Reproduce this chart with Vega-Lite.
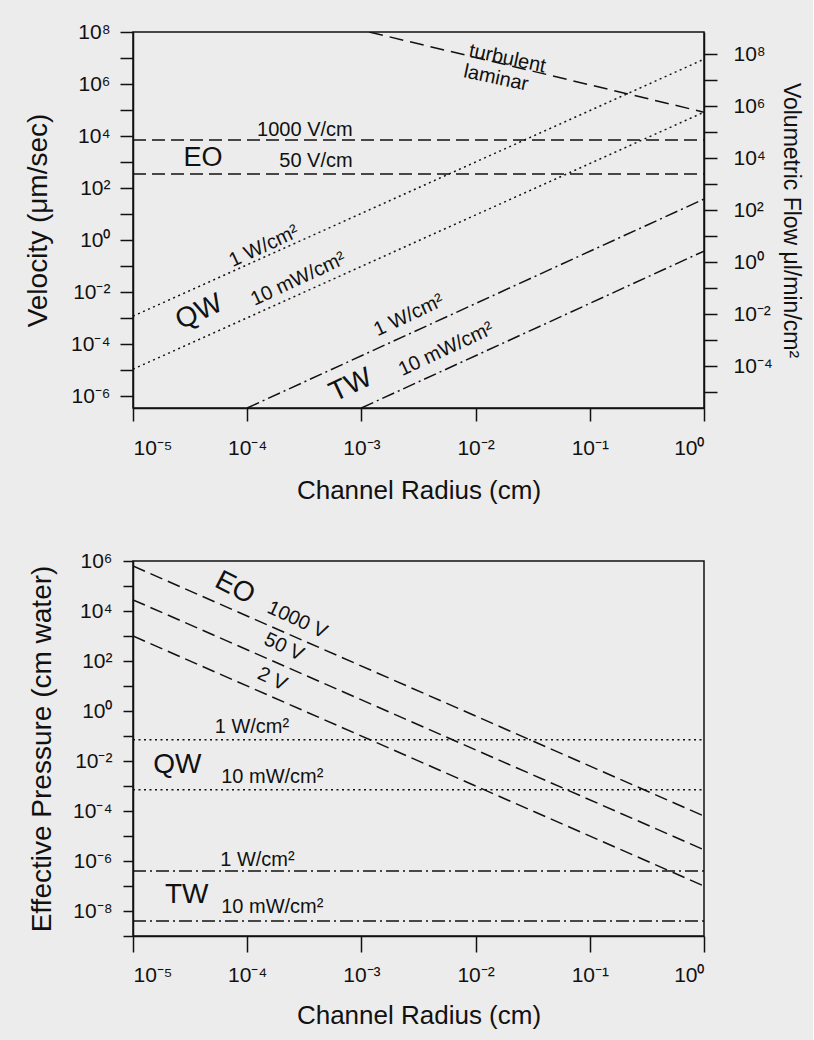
{
  "$schema": "https://vega.github.io/schema/vega-lite/v6.json",
  "background": "#ececec",
  "padding": {"left": 23, "top": 20, "right": 10, "bottom": 15},
  "spacing": 45,
  "config": {
    "font": "Liberation Sans",
    "view": {"stroke": "#111", "strokeWidth": 1.5},
    "axis": {"grid": false, "domainColor": "#111", "tickColor": "#111", "labelColor": "#111", "titleColor": "#111", "labelFont": "Liberation Sans", "titleFont": "Liberation Sans", "labelFontSize": 21, "titleFontSize": 26, "titleFontWeight": "normal", "domainWidth": 1.5, "tickWidth": 1.5, "tickSize": 13, "labelPadding": 10},
    "line": {"color": "#111", "strokeWidth": 1.5},
    "text": {"font": "Liberation Sans", "color": "#111"}
  },
  "datasets": {
    "topLines": [
      {"series": "turbulent-laminar", "mechanism": "regime", "radius": 0.00117, "value": 100000000},
      {"series": "turbulent-laminar", "mechanism": "regime", "radius": 1, "value": 83000},
      {"series": "EO 1000 V/cm", "mechanism": "EO", "radius": 0.00001, "value": 7000},
      {"series": "EO 1000 V/cm", "mechanism": "EO", "radius": 1, "value": 7000},
      {"series": "EO 50 V/cm", "mechanism": "EO", "radius": 0.00001, "value": 350},
      {"series": "EO 50 V/cm", "mechanism": "EO", "radius": 1, "value": 350},
      {"series": "QW 1 W/cm2", "mechanism": "QW", "radius": 0.00001, "value": 0.0012},
      {"series": "QW 1 W/cm2", "mechanism": "QW", "radius": 1, "value": 9000000},
      {"series": "QW 10 mW/cm2", "mechanism": "QW", "radius": 0.00001, "value": 0.000011},
      {"series": "QW 10 mW/cm2", "mechanism": "QW", "radius": 1, "value": 83000},
      {"series": "TW 1 W/cm2", "mechanism": "TW", "radius": 0.0001, "value": 3.55e-7},
      {"series": "TW 1 W/cm2", "mechanism": "TW", "radius": 1, "value": 38},
      {"series": "TW 10 mW/cm2", "mechanism": "TW", "radius": 0.001, "value": 3.55e-7},
      {"series": "TW 10 mW/cm2", "mechanism": "TW", "radius": 1, "value": 0.38}
    ],
    "topLabels": [
      {"label": "turbulent", "mechanism": "regime", "role": "condition", "radius": 0.019, "value": 9500000},
      {"label": "laminar", "mechanism": "regime", "role": "condition", "radius": 0.0151, "value": 1700000},
      {"label": "1000 V/cm", "mechanism": "EO", "role": "condition", "radius": 0.00032, "value": 17000},
      {"label": "EO", "mechanism": "EO", "role": "name", "radius": 0.000041, "value": 1400},
      {"label": "50 V/cm", "mechanism": "EO", "role": "condition", "radius": 0.0004, "value": 1100},
      {"label": "1 W/cm²", "mechanism": "QW", "role": "condition", "radius": 0.00014, "value": 0.59},
      {"label": "QW", "mechanism": "QW", "role": "name", "radius": 0.000038, "value": 0.0017},
      {"label": "10 mW/cm²", "mechanism": "QW", "role": "condition", "radius": 0.00028, "value": 0.032},
      {"label": "TW", "mechanism": "TW", "role": "name", "radius": 0.00081, "value": 0.0000026},
      {"label": "1 W/cm²", "mechanism": "TW", "role": "condition", "radius": 0.0026, "value": 0.0013},
      {"label": "10 mW/cm²", "mechanism": "TW", "role": "condition", "radius": 0.0055, "value": 0.000065}
    ],
    "flowAxis": [
      {"flow": 0.0001},
      {"flow": 100000000}
    ],
    "botLines": [
      {"series": "EO 1000 V", "mechanism": "EO", "radius": 0.00001, "value": 630000},
      {"series": "EO 1000 V", "mechanism": "EO", "radius": 1, "value": 0.000063},
      {"series": "EO 50 V", "mechanism": "EO", "radius": 0.00001, "value": 28000},
      {"series": "EO 50 V", "mechanism": "EO", "radius": 1, "value": 0.0000028},
      {"series": "EO 2 V", "mechanism": "EO", "radius": 0.00001, "value": 1000},
      {"series": "EO 2 V", "mechanism": "EO", "radius": 1, "value": 1e-7},
      {"series": "QW 1 W/cm2", "mechanism": "QW", "radius": 0.00001, "value": 0.07},
      {"series": "QW 1 W/cm2", "mechanism": "QW", "radius": 1, "value": 0.07},
      {"series": "QW 10 mW/cm2", "mechanism": "QW", "radius": 0.00001, "value": 0.0007},
      {"series": "QW 10 mW/cm2", "mechanism": "QW", "radius": 1, "value": 0.0007},
      {"series": "TW 1 W/cm2", "mechanism": "TW", "radius": 0.00001, "value": 4e-7},
      {"series": "TW 1 W/cm2", "mechanism": "TW", "radius": 1, "value": 4e-7},
      {"series": "TW 10 mW/cm2", "mechanism": "TW", "radius": 0.00001, "value": 4e-9},
      {"series": "TW 10 mW/cm2", "mechanism": "TW", "radius": 1, "value": 4e-9}
    ],
    "botLabels": [
      {"label": "EO", "mechanism": "EO", "role": "name", "radius": 0.000078, "value": 83000},
      {"label": "1000 V", "mechanism": "EO", "role": "condition", "radius": 0.000275, "value": 4400},
      {"label": "50 V", "mechanism": "EO", "role": "condition", "radius": 0.00021, "value": 363},
      {"label": "2 V", "mechanism": "EO", "role": "condition", "radius": 0.000166, "value": 19},
      {"label": "1 W/cm²", "mechanism": "QW", "role": "condition", "radius": 0.00011, "value": 0.23},
      {"label": "QW", "mechanism": "QW", "role": "name", "radius": 0.0000245, "value": 0.0069},
      {"label": "10 mW/cm²", "mechanism": "QW", "role": "condition", "radius": 0.000166, "value": 0.0023},
      {"label": "1 W/cm²", "mechanism": "TW", "role": "condition", "radius": 0.000123, "value": 0.0000011},
      {"label": "TW", "mechanism": "TW", "role": "name", "radius": 0.0000295, "value": 4.4e-8},
      {"label": "10 mW/cm²", "mechanism": "TW", "role": "condition", "radius": 0.000166, "value": 1.45e-8}
    ]
  },
  "vconcat": [
    {
      "width": 571,
      "height": 376,
      "layer": [
        {
          "encoding": {
            "x": {"field": "radius", "type": "quantitative", "scale": {"type": "log", "domain": [0.00001, 1]},
              "axis": {"title": "Channel Radius (cm)", "values": [0.00001, 0.0001, 0.001, 0.01, 0.1, 1], "labelPadding": 16, "titlePadding": 19,
                "labelExpr": "'10' + replace(replace(replace(replace(replace(replace(replace(replace(replace(replace(replace('' + round(log(datum.value)/LN10),'-','⁻'),'0','⁰'),'1','¹'),'2','²'),'3','³'),'4','⁴'),'5','⁵'),'6','⁶'),'7','⁷'),'8','⁸'),'9','⁹')"}},
            "y": {"field": "value", "type": "quantitative", "scale": {"type": "log", "domain": [3.55e-7, 100000000]},
              "axis": {"title": "Velocity (μm/sec)", "titleFontSize": 28, "titlePadding": 18, "values": [0.000001, 0.00001, 0.0001, 0.001, 0.01, 0.1, 1, 10, 100, 1000, 10000, 100000, 1000000, 10000000, 100000000],
                "labelExpr": "(round(log(datum.value)/LN10) % 2 != 0) ? '' : '10' + replace(replace(replace(replace(replace(replace(replace(replace(replace(replace(replace('' + round(log(datum.value)/LN10),'-','⁻'),'0','⁰'),'1','¹'),'2','²'),'3','³'),'4','⁴'),'5','⁵'),'6','⁶'),'7','⁷'),'8','⁸'),'9','⁹')"}}
          },
          "layer": [
            {
              "data": {"name": "topLines"},
              "mark": {"type": "line", "clip": true},
              "encoding": {
                "detail": {"field": "series"},
                "strokeDash": {"field": "mechanism", "type": "nominal", "legend": null,
                  "scale": {"domain": ["regime", "EO", "QW", "TW"], "range": [[14, 7], [13, 6], [2, 3.5], [13, 4, 2, 4]]}}
              }
            },
            {
              "data": {"name": "topLabels"},
              "transform": [{"filter": "datum.mechanism == 'regime'"}],
              "mark": {"type": "text", "fontSize": 20, "angle": 12, "align": "center", "baseline": "middle"},
              "encoding": {"text": {"field": "label"}}
            },
            {
              "data": {"name": "topLabels"},
              "transform": [{"filter": "datum.mechanism == 'EO' && datum.role == 'condition'"}],
              "mark": {"type": "text", "fontSize": 20, "align": "center", "baseline": "middle"},
              "encoding": {"text": {"field": "label"}}
            },
            {
              "data": {"name": "topLabels"},
              "transform": [{"filter": "datum.mechanism == 'EO' && datum.role == 'name'"}],
              "mark": {"type": "text", "fontSize": 27, "align": "center", "baseline": "middle"},
              "encoding": {"text": {"field": "label"}}
            },
            {
              "data": {"name": "topLabels"},
              "transform": [{"filter": "datum.mechanism != 'EO' && datum.mechanism != 'regime' && datum.role == 'condition'"}],
              "mark": {"type": "text", "fontSize": 20, "angle": -25, "align": "center", "baseline": "middle"},
              "encoding": {"text": {"field": "label"}}
            },
            {
              "data": {"name": "topLabels"},
              "transform": [{"filter": "datum.mechanism != 'EO' && datum.mechanism != 'regime' && datum.role == 'name'"}],
              "mark": {"type": "text", "fontSize": 28, "angle": -25, "align": "center", "baseline": "middle"},
              "encoding": {"text": {"field": "label"}}
            }
          ]
        },
        {
          "data": {"name": "flowAxis"},
          "mark": {"type": "point", "opacity": 0},
          "encoding": {
            "y": {"field": "flow", "type": "quantitative", "scale": {"type": "log", "domain": [0.0000025, 708000000]},
              "axis": {"orient": "right", "title": "Volumetric Flow μl/min/cm²", "titleFontSize": 23, "titlePadding": 6, "labelPadding": 16, "values": [0.00001, 0.0001, 0.001, 0.01, 0.1, 1, 10, 100, 1000, 10000, 100000, 1000000, 10000000, 100000000],
                "labelExpr": "(round(log(datum.value)/LN10) % 2 != 0) ? '' : '10' + replace(replace(replace(replace(replace(replace(replace(replace(replace(replace(replace('' + round(log(datum.value)/LN10),'-','⁻'),'0','⁰'),'1','¹'),'2','²'),'3','³'),'4','⁴'),'5','⁵'),'6','⁶'),'7','⁷'),'8','⁸'),'9','⁹')"}}
          }
        }
      ],
      "resolve": {"scale": {"y": "independent"}, "axis": {"y": "independent"}}
    },
    {
      "width": 571,
      "height": 375,
      "encoding": {
        "x": {"field": "radius", "type": "quantitative", "scale": {"type": "log", "domain": [0.00001, 1]},
          "axis": {"title": "Channel Radius (cm)", "tickSize": 16, "values": [0.00001, 0.0001, 0.001, 0.01, 0.1, 1], "labelPadding": 12, "titlePadding": 17,
            "labelExpr": "'10' + replace(replace(replace(replace(replace(replace(replace(replace(replace(replace(replace('' + round(log(datum.value)/LN10),'-','⁻'),'0','⁰'),'1','¹'),'2','²'),'3','³'),'4','⁴'),'5','⁵'),'6','⁶'),'7','⁷'),'8','⁸'),'9','⁹')"}},
        "y": {"field": "value", "type": "quantitative", "scale": {"type": "log", "domain": [1e-9, 1000000]},
          "axis": {"title": "Effective Pressure (cm water)", "titleFontSize": 28, "tickSize": 10, "labelPadding": 11, "titlePadding": 16, "values": [1e-9, 1e-8, 1e-7, 0.000001, 0.00001, 0.0001, 0.001, 0.01, 0.1, 1, 10, 100, 1000, 10000, 100000, 1000000],
            "labelExpr": "(round(log(datum.value)/LN10) % 2 != 0) ? '' : '10' + replace(replace(replace(replace(replace(replace(replace(replace(replace(replace(replace('' + round(log(datum.value)/LN10),'-','⁻'),'0','⁰'),'1','¹'),'2','²'),'3','³'),'4','⁴'),'5','⁵'),'6','⁶'),'7','⁷'),'8','⁸'),'9','⁹')"}}
      },
      "layer": [
        {
          "data": {"name": "botLines"},
          "mark": {"type": "line", "clip": true},
          "encoding": {
            "detail": {"field": "series"},
            "strokeDash": {"field": "mechanism", "type": "nominal", "legend": null,
              "scale": {"domain": ["EO", "QW", "TW"], "range": [[13, 6], [2, 3.5], [13, 4, 2, 4]]}}
          }
        },
        {
          "data": {"name": "botLabels"},
          "transform": [{"filter": "datum.mechanism == 'EO' && datum.role == 'condition'"}],
          "mark": {"type": "text", "fontSize": 20, "angle": 25, "align": "center", "baseline": "middle"},
          "encoding": {"text": {"field": "label"}}
        },
        {
          "data": {"name": "botLabels"},
          "transform": [{"filter": "datum.mechanism == 'EO' && datum.role == 'name'"}],
          "mark": {"type": "text", "fontSize": 28, "angle": 27, "align": "center", "baseline": "middle"},
          "encoding": {"text": {"field": "label"}}
        },
        {
          "data": {"name": "botLabels"},
          "transform": [{"filter": "datum.mechanism != 'EO' && datum.role == 'condition'"}],
          "mark": {"type": "text", "fontSize": 20, "align": "center", "baseline": "middle"},
          "encoding": {"text": {"field": "label"}}
        },
        {
          "data": {"name": "botLabels"},
          "transform": [{"filter": "datum.mechanism != 'EO' && datum.role == 'name'"}],
          "mark": {"type": "text", "fontSize": 28, "align": "center", "baseline": "middle"},
          "encoding": {"text": {"field": "label"}}
        }
      ]
    }
  ]
}
